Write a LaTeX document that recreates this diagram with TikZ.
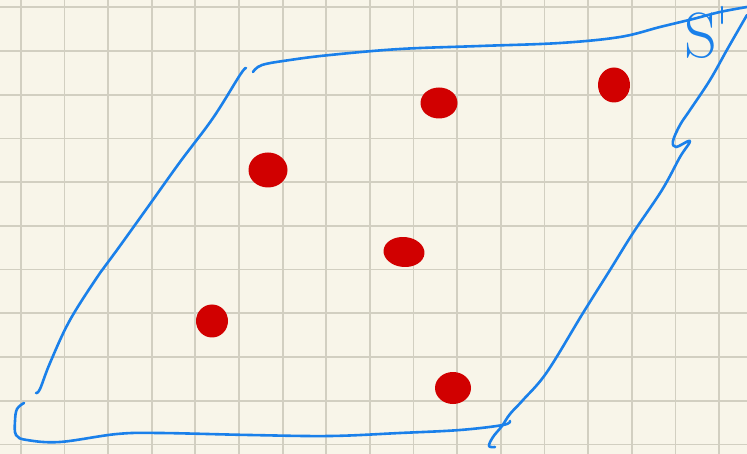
\documentclass[tikz,border=0pt]{standalone}
\usepackage{fontspec}
\usetikzlibrary{shapes.geometric}
\definecolor{paper}{HTML}{F8F5E9}
\definecolor{gridln}{HTML}{D2CFC1}
\definecolor{pen}{HTML}{1A80EA}
\definecolor{ink}{HTML}{D10000}
\tikzset{
  gridline/.style={gridln,line width=1.7pt},
  stroke/.style={pen,line width=2.6pt,line cap=round,line join=round},
  blob/.style={ellipse,fill=ink,inner sep=0pt}
}

\begin{document}
\begin{tikzpicture}[x=1pt,y=-1pt]
\fill[paper] (0,0) rectangle (747,454);
\useasboundingbox (0,0) rectangle (747,454);
% squared paper
\foreach \i in {0,...,16}
  \draw[gridline] (20.7+43.66*\i,0) -- (20.7+43.66*\i,454);
\foreach \j in {0,...,10}
  \draw[gridline] (0,7.3+43.72*\j) -- (747,7.3+43.72*\j);
% the region, drawn freehand
\draw[stroke] plot[smooth,tension=0.6] coordinates {(246,68) (240,75) (213,118)
  (180,162) (150,204) (117,250) (100,273) (70,320) (50,363) (40,389) (36,393)};
\draw[stroke] plot[smooth,tension=0.6] coordinates {(253,72) (262,65) (290,60)
  (330,55) (400,49) (480,46) (560,43) (620,37) (660,27) (693,19) (720,12) (747,7)};
\draw[stroke] plot[smooth,tension=0.6] coordinates {(747,15) (728,48) (710,80)
  (690,110) (680,125) (673,141) (676,147) (690,141) (680,157) (662,190) (633,233)
  (610,270) (583,313) (547,372) (523,400) (510,414) (502,426) (493,437) (489,446) (495,447)};
\draw[stroke] plot[smooth,tension=0.6] coordinates {(24,403) (17,409) (15,421)
  (16,435) (27,440) (60,442) (117,434) (160,433) (250,435) (330,436) (400,433)
  (460,430) (503,425) (510,421)};
\draw[stroke] (722,7) -- (722,23);
\node[text=pen,font=\fontsize{64}{64}\selectfont] (lbl) at (701,36) {S};
% points
\node[blob,minimum width=37pt,minimum height=31pt] (p1) at (439,103) {};
\node[blob,minimum width=39pt,minimum height=35pt] (p2) at (268,170) {};
\node[blob,minimum width=32pt,minimum height=35pt] (p3) at (614,85) {};
\node[blob,minimum width=41pt,minimum height=30pt,rotate=-5] (p4) at (404,252) {};
\node[blob,minimum width=32pt,minimum height=33pt] (p5) at (212,321) {};
\node[blob,minimum width=36pt,minimum height=32pt] (p6) at (453,388) {};
\end{tikzpicture}
\end{document}
